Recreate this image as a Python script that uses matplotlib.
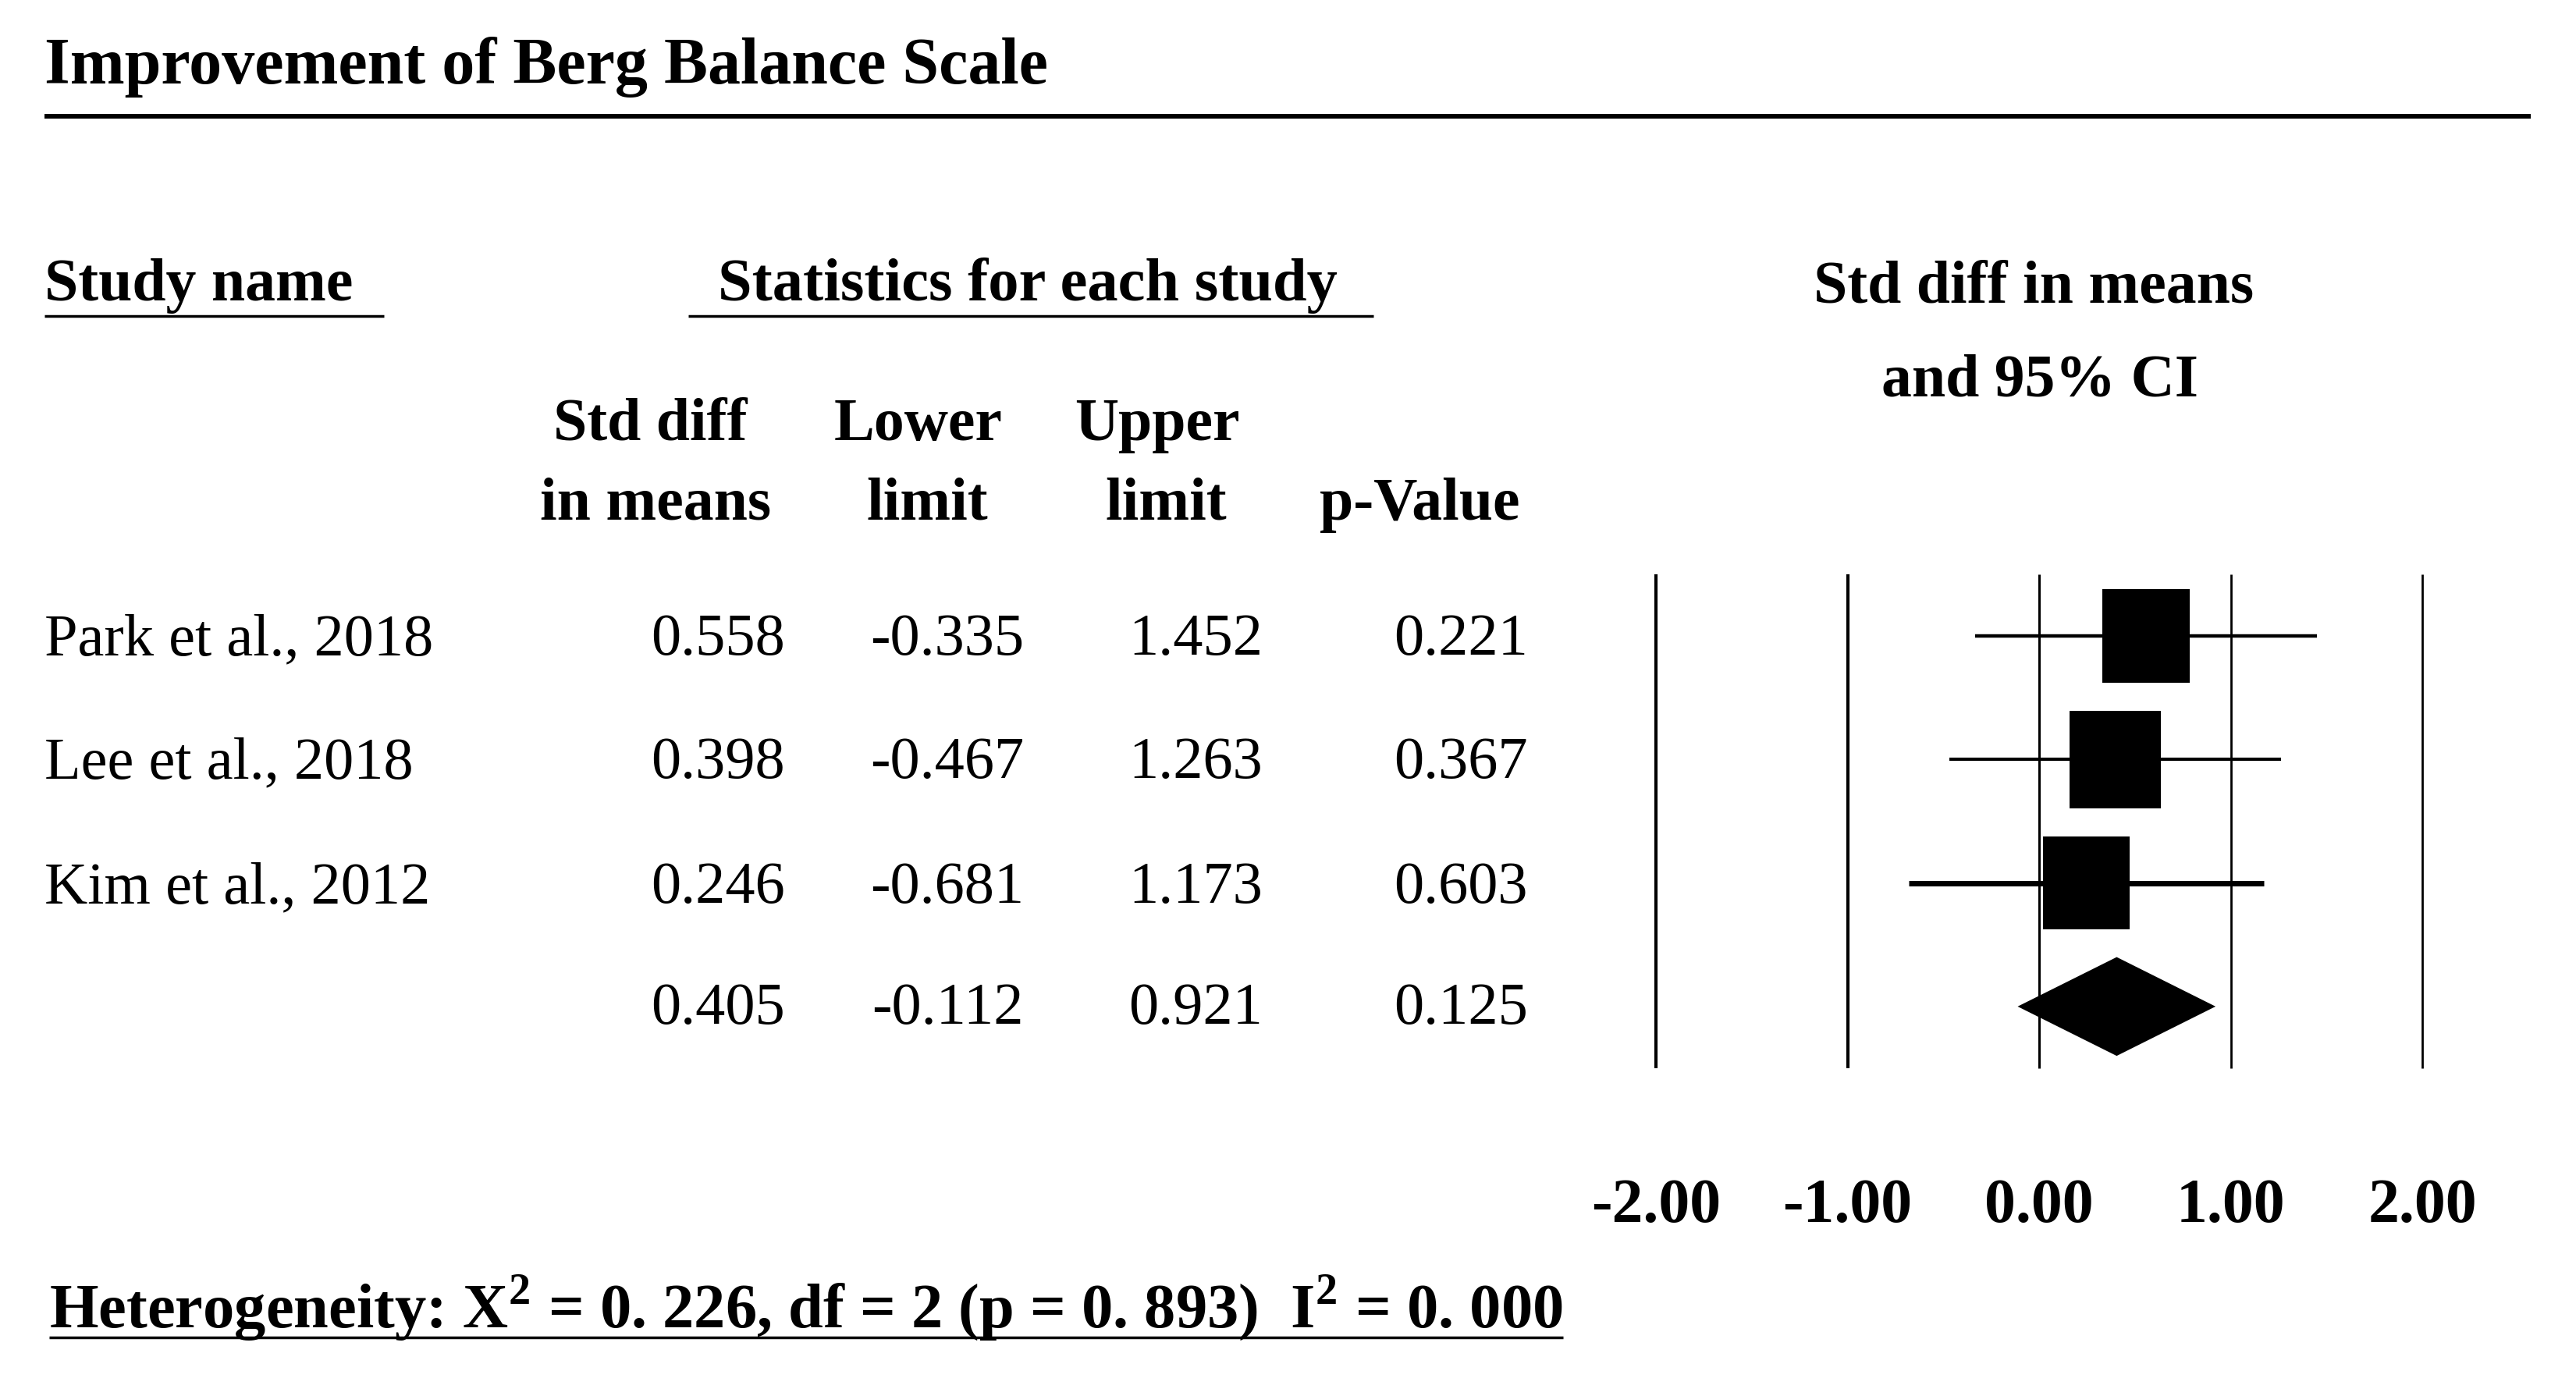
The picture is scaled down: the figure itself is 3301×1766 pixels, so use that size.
import matplotlib
matplotlib.use("Agg")
import matplotlib.pyplot as plt
from matplotlib.patches import Rectangle, Polygon
from matplotlib.transforms import blended_transform_factory

# ------------------------------------------------------------------
# data
# ------------------------------------------------------------------
studies = ["Park et al., 2018", "Lee et al., 2018", "Kim et al., 2012"]
smd = [0.558, 0.398, 0.246]
lower = [-0.335, -0.467, -0.681]
upper = [1.452, 1.263, 1.173]
pvals = [0.221, 0.367, 0.603]
rel_weight = [0.96, 1.00, 0.95]   # relative box size (study weight)

pooled_smd, pooled_lo, pooled_hi, pooled_p = 0.405, -0.112, 0.921, 0.125
ticks = [-2.0, -1.0, 0.0, 1.0, 2.0]
het_chi2, het_df, het_p, het_i2 = 0.226, 2, 0.893, 0.000

# ------------------------------------------------------------------
# layout (pixel units of the 3301 x 1766 canvas)
# ------------------------------------------------------------------
W, H, DPI = 3301, 1766, 100
SERIF = "Liberation Serif"
FS = 55

plt.rcParams["mathtext.fontset"] = "custom"
plt.rcParams["mathtext.rm"] = "Liberation Serif:bold"
plt.rcParams["mathtext.bf"] = "Liberation Serif:bold"

fig = plt.figure(figsize=(W / DPI, H / DPI), dpi=DPI)
ax = fig.add_axes([0, 0, 1, 1])
ax.set_xlim(0, W)
ax.set_ylim(H, 0)
ax.axis("off")


def txt(x, y, s, size=FS, weight="normal", ha="left"):
    return ax.text(x, y, s, fontsize=size, fontweight=weight, ha=ha,
                   va="baseline", family=SERIF, color="black")


# title + rule
txt(57, 107, "Improvement of Berg Balance Scale", size=60.5, weight="bold")
ax.plot([57, 3243], [149, 149], color="black", lw=4.3, solid_capstyle="butt")

# group headers
txt(57, 385, "Study name", size=56, weight="bold")
ax.plot([57, 492], [405, 405], color="black", lw=2.5, solid_capstyle="butt")
txt(1317, 385, "Statistics for each study", size=56.5, weight="bold", ha="center")
ax.plot([882, 1760], [405, 405], color="black", lw=2.5, solid_capstyle="butt")
txt(2606, 387, "Std diff in means", size=56, weight="bold", ha="center")
txt(2614, 508, "and 95% CI", size=56, weight="bold", ha="center")

# column headers
txt(833, 564, "Std diff", size=56, weight="bold", ha="center")
txt(840, 666, "in means", size=56, weight="bold", ha="center")
txt(1177, 564, "Lower", size=56, weight="bold", ha="center")
txt(1188, 666, "limit", size=56, weight="bold", ha="center")
txt(1483, 564, "Upper", size=56, weight="bold", ha="center")
txt(1494, 666, "limit", size=56, weight="bold", ha="center")
txt(1819, 666, "p-Value", size=56, weight="bold", ha="center")

# table rows
row_base = [839, 997, 1157, 1312]
col_right = [1006, 1312, 1618, 1958]
for i, name in enumerate(studies):
    y = row_base[i]
    txt(57, y, name)
    for xr, v in zip(col_right, [smd[i], lower[i], upper[i], pvals[i]]):
        txt(xr, y, f"{v:.3f}", ha="right")
for xr, v in zip(col_right, [pooled_smd, pooled_lo, pooled_hi, pooled_p]):
    txt(xr, row_base[3], f"{v:.3f}", ha="right")

# ------------------------------------------------------------------
# forest plot
# ------------------------------------------------------------------
x_m2, x_p2 = 2122, 3104
unit = (x_p2 - x_m2) / 4.0
f_left = x_m2 - 0.5 * unit
f_top, f_bot = 736, 1369
fax = fig.add_axes([f_left / W, 1 - f_bot / H, 5 * unit / W, (f_bot - f_top) / H])
fax.set_xlim(-2.5, 2.5)
fax.set_ylim(3.5, -0.5)
fax.axis("off")

fax.vlines(ticks, -0.5, 3.5, colors="black",
           linewidths=[3.0, 3.0, 2.2, 2.0, 2.0], clip_on=False)

ci_lw = [3.2, 3.0, 5.0]
for i in range(len(studies)):
    fax.plot([lower[i], upper[i]], [i, i], color="black", lw=ci_lw[i],
             solid_capstyle="butt")
    bh = 0.79 * rel_weight[i]
    bw = 0.475 * rel_weight[i]
    fax.add_patch(Rectangle((smd[i] - bw / 2, i - bh / 2), bw, bh,
                            facecolor="black", edgecolor="none"))

yd = len(studies)
fax.add_patch(Polygon([(pooled_lo, yd), (pooled_smd, yd - 0.4),
                       (pooled_hi, yd), (pooled_smd, yd + 0.4)],
                      closed=True, facecolor="black", edgecolor="none"))

tick_tr = blended_transform_factory(fax.transData, ax.transData)
for t in ticks:
    fax.text(t, 1566, f"{t:.2f}", transform=tick_tr, ha="center", va="baseline",
             fontsize=57.5, fontweight="bold", family=SERIF)

# ------------------------------------------------------------------
# heterogeneity line (underlined)
# ------------------------------------------------------------------
het = (f"Heterogeneity: X$^{{2}}$ = {het_chi2:.3f}, df = {het_df} "
       f"(p = {het_p:.3f})  I$^{{2}}$ = {het_i2:.3f}").replace("0.", "0. ")
ht = txt(63, 1702, het, size=58, weight="bold")
fig.canvas.draw()
bb = ht.get_window_extent().transformed(ax.transData.inverted())
ax.plot([63, bb.x1], [1714, 1714], color="black", lw=2.5, solid_capstyle="butt")

fig.savefig("out.png", dpi=DPI)
